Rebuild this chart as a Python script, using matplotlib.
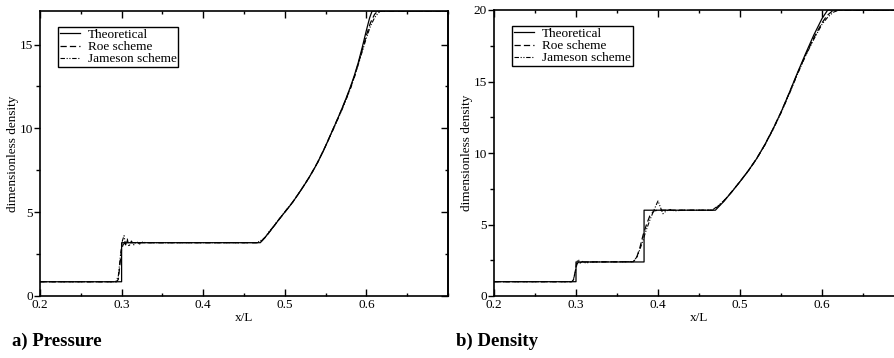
import numpy as np
import matplotlib
matplotlib.use("Agg")
import matplotlib.pyplot as plt
from matplotlib.ticker import MultipleLocator

plt.rcParams["font.family"] = ["Liberation Serif", "DejaVu Serif"]

# ---------- pressure (panel a) ----------
p_theo_x = [0.2, 0.3, 0.3, 0.47, 0.475, 0.48, 0.485, 0.49, 0.495, 0.50, 0.505, 0.51,
            0.515, 0.52, 0.525, 0.53, 0.535, 0.54, 0.545, 0.55, 0.555, 0.56, 0.565,
            0.57, 0.575, 0.58, 0.585, 0.59, 0.595, 0.60, 0.604, 0.607, 0.7]
p_theo_y = [0.85, 0.85, 3.18, 3.18, 3.45, 3.75, 4.06, 4.38, 4.70, 5.0, 5.30, 5.62,
            5.97, 6.33, 6.70, 7.09, 7.50, 7.95, 8.43, 8.95, 9.5, 10.05, 10.6,
            11.18, 11.78, 12.42, 13.12, 13.92, 14.85, 15.85, 16.6, 17.0, 17.0]

p_roe_x = [0.2, 0.294, 0.296, 0.298, 0.300, 0.302, 0.304, 0.31, 0.467, 0.472, 0.477,
           0.485, 0.49, 0.50, 0.51, 0.52, 0.53, 0.54, 0.55, 0.56, 0.57, 0.58, 0.585,
           0.59, 0.595, 0.60, 0.605, 0.61, 0.614, 0.7]
p_roe_y = [0.85, 0.85, 1.0, 1.9, 2.8, 3.08, 3.15, 3.18, 3.18, 3.3, 3.55,
           4.06, 4.38, 5.0, 5.62, 6.33, 7.09, 7.95, 8.95, 10.05, 11.15, 12.35, 13.05,
           13.85, 14.7, 15.55, 16.3, 16.8, 17.0, 17.0]

p_jam_x = [0.2, 0.293, 0.296, 0.299, 0.301, 0.303, 0.305, 0.307, 0.309, 0.312, 0.315,
           0.318, 0.322, 0.326, 0.33, 0.466, 0.472, 0.476, 0.48, 0.485, 0.49, 0.50,
           0.51, 0.52, 0.53, 0.54, 0.55, 0.56, 0.57, 0.58, 0.585, 0.59, 0.595,
           0.60, 0.605, 0.61, 0.614, 0.617, 0.7]
p_jam_y = [0.85, 0.85, 1.2, 2.6, 3.3, 3.6, 3.0, 3.4, 2.95, 3.28, 3.05,
           3.25, 3.1, 3.22, 3.18, 3.18, 3.35, 3.5, 3.8, 4.08, 4.4, 5.02,
           5.63, 6.33, 7.08, 7.93, 8.93, 10.0, 11.1, 12.3, 13.0, 13.8, 14.6,
           15.4, 16.1, 16.6, 16.85, 17.0, 17.0]

# ---------- density (panel b) ----------
r_theo_x = [0.2, 0.3, 0.3, 0.383, 0.383, 0.47, 0.48, 0.49, 0.50, 0.51, 0.52, 0.53,
            0.54, 0.55, 0.56, 0.57, 0.58, 0.59, 0.60, 0.607, 0.7]
r_theo_y = [1.0, 1.0, 2.38, 2.38, 6.0, 6.0, 6.6, 7.28, 8.0, 8.75, 9.58, 10.55,
            11.65, 12.85, 14.2, 15.6, 16.95, 18.25, 19.4, 20.0, 20.0]

r_roe_x = [0.2, 0.295, 0.297, 0.299, 0.301, 0.303, 0.37, 0.374, 0.378, 0.382, 0.386,
           0.39, 0.395, 0.40, 0.467, 0.473, 0.48, 0.49, 0.50, 0.51, 0.52, 0.53,
           0.54, 0.55, 0.56, 0.57, 0.58, 0.59, 0.60, 0.606, 0.612, 0.618, 0.7]
r_roe_y = [1.0, 1.0, 1.15, 1.7, 2.2, 2.38, 2.4, 2.7, 3.4, 4.3, 5.0,
           5.6, 5.95, 6.0, 6.0, 6.25, 6.62, 7.29, 8.0, 8.75, 9.58, 10.55,
           11.65, 12.85, 14.18, 15.55, 16.85, 18.05, 19.1, 19.6, 19.9, 20.0, 20.0]

r_jam_x = [0.2, 0.296, 0.299, 0.301, 0.303, 0.305, 0.308, 0.312, 0.318, 0.37, 0.375,
           0.38, 0.385, 0.39, 0.395, 0.40, 0.403, 0.406, 0.41, 0.415, 0.42, 0.43,
           0.466, 0.473, 0.48, 0.49, 0.50, 0.51, 0.52, 0.53, 0.54, 0.55, 0.56,
           0.57, 0.58, 0.59, 0.60, 0.607, 0.614, 0.621, 0.7]
r_jam_y = [1.0, 1.0, 1.6, 2.4, 2.55, 2.3, 2.42, 2.3, 2.38, 2.4, 2.8,
           3.6, 4.5, 5.3, 6.0, 6.65, 6.2, 5.75, 5.95, 6.05, 5.95, 6.0,
           6.0, 6.3, 6.65, 7.3, 8.0, 8.74, 9.57, 10.52, 11.6, 12.8, 14.1,
           15.5, 16.8, 17.95, 19.0, 19.5, 19.85, 20.0, 20.0]

labels = ["Theoretical", "Roe scheme", "Jameson scheme"]
jam_style = (0, (4, 1.5, 1, 1.5, 1, 1.5))

fig = plt.figure(figsize=(8.94, 3.58), dpi=100)
ax1 = fig.add_axes([40/894, 62/358, 408/894, 285/358])
ax2 = fig.add_axes([494/894, 62/358, 410/894, 286/358])


def style_axes(ax, ymax):
    ax.set_xlim(0.2, 0.7)
    ax.set_ylim(0, ymax)
    ax.set_xticks([0.2, 0.3, 0.4, 0.5, 0.6])
    ax.set_xticklabels(["0.2", "0.3", "0.4", "0.5", "0.6"])
    ax.xaxis.set_minor_locator(MultipleLocator(0.05))
    ax.yaxis.set_major_locator(MultipleLocator(5))
    ax.yaxis.set_minor_locator(MultipleLocator(2.5))
    ax.tick_params(axis="x", which="both", direction="in", top=True, labelsize=9.5, pad=2,
                   width=1, color="black")
    ax.tick_params(axis="x", which="major", length=5)
    ax.tick_params(axis="x", which="minor", length=2.5)
    ax.tick_params(axis="y", which="both", direction="out", labelsize=9.5, pad=1, width=1)
    ax.tick_params(axis="y", which="major", length=4)
    ax.tick_params(axis="y", which="minor", length=3)
    for s in ax.spines.values():
        s.set_linewidth(1.2)
    ax.set_xlabel("x/L", fontsize=9.5, labelpad=1)
    ax.set_ylabel("dimensionless density", fontsize=9.5, labelpad=0.5)


for ax, (tx, ty, rx, ry, jx, jy), ymax in [
    (ax1, (p_theo_x, p_theo_y, p_roe_x, p_roe_y, p_jam_x, p_jam_y), 17),
    (ax2, (r_theo_x, r_theo_y, r_roe_x, r_roe_y, r_jam_x, r_jam_y), 20),
]:
    ax.plot(tx, ty, color="black", lw=0.9, label=labels[0])
    ax.plot(rx, ry, color="black", lw=0.9, linestyle=(0, (5, 2.5)), label=labels[1])
    ax.plot(jx, jy, color="black", lw=0.8, linestyle=jam_style, label=labels[2])
    style_axes(ax, ymax)
    # right-hand side ticks go inward
    sec = ax.secondary_yaxis("right")
    sec.yaxis.set_major_locator(MultipleLocator(5))
    sec.yaxis.set_minor_locator(MultipleLocator(2.5))
    sec.tick_params(which="both", direction="in", labelright=False, width=1)
    sec.tick_params(which="major", length=5)
    sec.tick_params(which="minor", length=2.5)
    sec.spines["right"].set_linewidth(1.2)
    leg = ax.legend(loc="upper left", bbox_to_anchor=(0.044, 0.945), borderaxespad=0,
                    fontsize=9.5, frameon=True, fancybox=False, framealpha=1,
                    handlelength=1.5, handletextpad=0.6, labelspacing=0.0,
                    borderpad=0.15)
    leg.get_frame().set_edgecolor("black")
    leg.get_frame().set_linewidth(1.0)

fig.text(12/894, 1 - 341/358, "a) Pressure", fontsize=13.5, fontweight="bold", va="center")
fig.text(456/894, 1 - 341/358, "b) Density", fontsize=13.5, fontweight="bold", va="center")

fig.savefig("out.png", dpi=100)
